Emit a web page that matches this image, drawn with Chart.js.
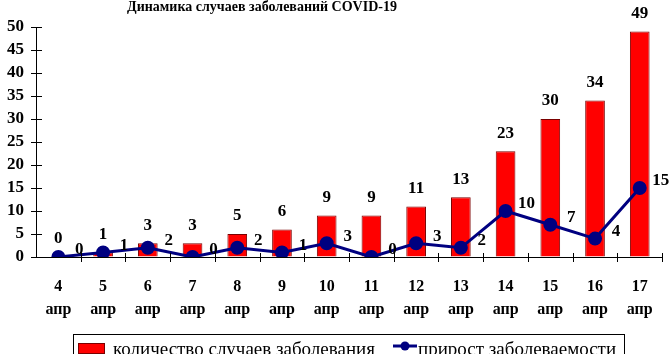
<!DOCTYPE html>
<html><head><meta charset="utf-8">
<script src="https://cdn.jsdelivr.net/npm/chart.js@4/dist/chart.umd.min.js"></script>
<style>
html,body{margin:0;padding:0;background:#fff;overflow:hidden;width:672px;height:354px;}
canvas{display:block;}
</style></head>
<body>
<canvas id="c" width="672" height="372"></canvas>
<script>
const titleText = 'Динамика случаев заболеваний COVID-19';
const days = ['4','5','6','7','8','9','10','11','12','13','14','15','16','17'];
const month = 'апр';
const casesLabel = 'количество случаев заболевания';
const growthLabel = 'прирост заболеваемости';
const cases = [0,1,3,3,5,6,9,9,11,13,23,30,34,49];
const growth = [0,1,2,0,2,1,3,0,3,2,10,7,4,15];
const yMax = 50, yStep = 5;

const SERIF = "'Liberation Serif','Times New Roman',serif";
const BAR_COLOR = '#ff0000', BAR_BORDER = '#7a0000', LINE_COLOR = '#000080';

const labels = days.map(d => [d, month]);

const decor = {
  id: 'decor',
  afterDatasetsDraw(chart) {
    const ctx = chart.ctx;
    const x = chart.scales.x, y = chart.scales.y;
    ctx.save();
    // tick marks crossing the axes
    ctx.strokeStyle = '#000'; ctx.lineWidth = 1;
    ctx.beginPath();
    for (let v = 0; v <= yMax; v += yStep) {
      const py = Math.round(y.getPixelForValue(v)) + 0.5;
      ctx.moveTo(x.left - 5, py); ctx.lineTo(x.left + 6, py);
    }
    const w = (x.right - x.left) / labels.length;
    for (let i = 1; i <= labels.length; i++) {
      const px = Math.round(x.getPixelForValue(i - 1) + w / 2) + 0.5;
      ctx.moveTo(px, y.bottom - 4); ctx.lineTo(px, y.bottom + 5);
    }
    ctx.stroke();
    // data labels
    ctx.fillStyle = '#000';
    ctx.font = 'bold 17px ' + SERIF;
    ctx.textAlign = 'center'; ctx.textBaseline = 'middle';
    chart.data.datasets.forEach((ds, di) => {
      const meta = chart.getDatasetMeta(di);
      meta.data.forEach((el, i) => {
        const t = String(ds.data[i]);
        if (ds.type === 'bar') ctx.fillText(t, el.x, el.y - 18);
        else ctx.fillText(t, el.x + 21, el.y - 7);
      });
    });
    // title
    ctx.font = 'bold 14px ' + SERIF;
    ctx.fillText(titleText, 262, 7);
    // legend
    const lx = 73, ly = 334, lw = 551, lh = 40;
    ctx.strokeStyle = '#000'; ctx.lineWidth = 1;
    ctx.strokeRect(lx + 0.5, ly + 0.5, lw, lh);
    ctx.fillStyle = BAR_COLOR; ctx.strokeStyle = BAR_BORDER;
    ctx.fillRect(78, 343, 27, 11); ctx.strokeRect(78.5, 343.5, 26, 10);
    ctx.fillStyle = '#000';
    ctx.font = '19px ' + SERIF;
    ctx.textAlign = 'left'; ctx.textBaseline = 'alphabetic';
    ctx.fillText(casesLabel, 113, 355);
    ctx.strokeStyle = LINE_COLOR; ctx.lineWidth = 3;
    ctx.beginPath(); ctx.moveTo(393, 346); ctx.lineTo(417, 346); ctx.stroke();
    ctx.fillStyle = LINE_COLOR;
    ctx.beginPath(); ctx.arc(405, 346, 4.5, 0, Math.PI * 2); ctx.fill();
    ctx.fillStyle = '#000';
    ctx.fillText(growthLabel, 418, 355);
    ctx.restore();
  }
};

new Chart(document.getElementById('c'), {
  type: 'bar',
  data: {
    labels: labels,
    datasets: [
      { type: 'line', label: growthLabel, data: growth, borderColor: LINE_COLOR, backgroundColor: LINE_COLOR,
        borderWidth: 3, pointRadius: 5.5, pointBackgroundColor: LINE_COLOR, pointBorderColor: LINE_COLOR,
        tension: 0, order: 0 },
      { type: 'bar', label: casesLabel, data: cases, backgroundColor: BAR_COLOR, borderColor: BAR_BORDER,
        borderWidth: 1, barPercentage: 0.44, categoryPercentage: 1, order: 1 }
    ]
  },
  options: {
    responsive: false, animation: false,
    layout: { padding: { top: 27, right: 7, bottom: 45, left: 0 } },
    plugins: { legend: { display: false }, title: { display: false }, tooltip: { enabled: false } },
    scales: {
      x: {
        offset: true,
        grid: { display: true, drawOnChartArea: false, drawTicks: false },
        border: { display: true, color: '#000', width: 1 },
        ticks: { color: '#000', font: { family: SERIF, size: 16, weight: 'bold', lineHeight: 1.4 }, padding: 19, maxRotation: 0, autoSkip: false },
        afterFit(s) { s.height = 70; }
      },
      y: {
        min: 0, max: yMax,
        grid: { display: true, drawOnChartArea: false, drawTicks: false },
        border: { display: true, color: '#000', width: 1 },
        ticks: { stepSize: yStep, autoSkip: false, color: '#000', font: { family: SERIF, size: 17, weight: 'bold' }, padding: 12 },
        afterFit(s) { s.width = 36; }
      }
    }
  },
  plugins: [decor]
});
</script>
</body></html>
